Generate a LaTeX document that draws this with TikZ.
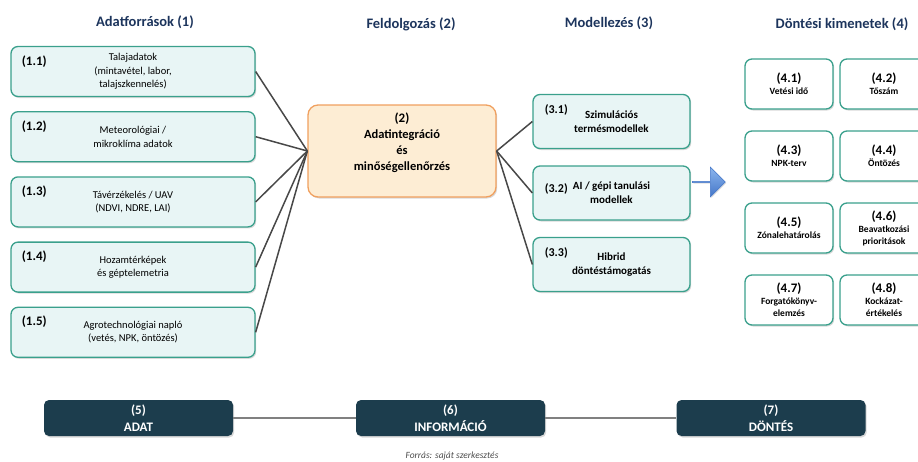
\documentclass[tikz,border=0pt]{standalone}
\usepackage{fontspec}
\setmainfont{Carlito}
\usetikzlibrary{shadows,shapes.arrows}
\definecolor{boxline}{RGB}{58,160,140}
\definecolor{boxfill}{RGB}{232,245,245}
\definecolor{coreline}{RGB}{240,160,95}
\definecolor{corefill}{RGB}{253,237,212}
\definecolor{barfill}{RGB}{28,61,77}
\definecolor{headtext}{RGB}{28,52,92}
\definecolor{wirecol}{RGB}{72,72,72}
\definecolor{arrowlight}{RGB}{140,182,238}
\definecolor{arrowdark}{RGB}{68,118,200}
\newcommand\fs[2]{\fontsize{#1}{#2}\selectfont}
\newcommand\bignum[1]{{\fs{13}{14}#1}}

\begin{document}
\begin{tikzpicture}[x=1pt, y=-1pt]
  \tikzstyle{source} = [rectangle, draw=boxline, line width=1.3pt, fill=boxfill, rounded corners=7pt,
                        minimum width=244pt, minimum height=50pt, align=center, font=\fs{10.5}{13.5},
                        drop shadow={shadow xshift=1.2pt, shadow yshift=-1.5pt, opacity=.3}]
  \tikzstyle{model} = [source, minimum width=157pt, minimum height=54pt, font=\bfseries\fs{11}{14}]
  \tikzstyle{outcome} = [source, fill=white, minimum width=88pt, minimum height=50pt, font=\bfseries\fs{9.5}{12}]
  \tikzstyle{core} = [source, draw=coreline, fill=corefill, minimum width=188pt, minimum height=92pt, rounded corners=10pt]
  \tikzstyle{stage} = [rectangle, fill=barfill, rounded corners=5pt, minimum width=189pt, minimum height=36pt,
                       text=white, align=center, font=\bfseries\fs{13}{16.5},
                       drop shadow={shadow xshift=1.2pt, shadow yshift=-1.5pt, opacity=.3}]
  \tikzstyle{num} = [anchor=north west, xshift=8pt, yshift=-6pt, font=\bfseries\fs{13}{14}]
  \tikzstyle{head} = [text=headtext, font=\bfseries\fs{14.5}{16}]
  \tikzstyle{wire} = [draw=wirecol, line width=1.5pt]
  \tikzstyle{barwire} = [draw=black!50, line width=2pt]

\clip (0,0) rectangle (918,461);

% column headers
\node[head] (h1) at (145,22) {Adatforrások (1)};
\node[head] (h2) at (411,24) {Feldolgozás (2)};
\node[head] (h3) at (609,23) {Modellezés (3)};
\node[head] (h4) at (842,24) {Döntési kimenetek (4)};

% data sources
\node[source, label={[num]north west:(1.1)}] (src11) at (133,71.5) {Talajadatok\\(mintavétel, labor,\\talajszkennelés)};
\node[source, below of=src11, node distance=65.2pt, label={[num]north west:(1.2)}] (src12) {Meteorológiai /\\mikroklíma adatok};
\node[source, below of=src12, node distance=65.2pt, label={[num]north west:(1.3)}] (src13) {Távérzékelés / UAV\\(NDVI, NDRE, LAI)};
\node[source, below of=src13, node distance=65.2pt, label={[num]north west:(1.4)}] (src14) {Hozamtérképek\\és géptelemetria};
\node[source, below of=src14, node distance=65.2pt, label={[num]north west:(1.5)}] (src15) {Agrotechnológiai napló\\(vetés, NPK, öntözés)};

% processing
\node[core, label={[align=center, font=\bfseries\fs{12.5}{16}, yshift=8pt]center:{\bignum{(2)}\\Adatintegráció\\és\\minőségellenőrzés}}] (integ) at (402,151) {};

% models
\node[model, label={[num, xshift=1pt, yshift=-1pt, font=\bfseries\fs{12}{13}]north west:(3.1)}] (mod31) at (611.5,121.5) {Szimulációs\\termésmodellek};
\node[model, below of=mod31, node distance=71.5pt, label={[num, xshift=1pt, yshift=-9pt, font=\bfseries\fs{12}{13}]north west:(3.2)}] (mod32) {AI / gépi tanulási\\modellek};
\node[model, below of=mod32, node distance=71.5pt, label={[num, xshift=1pt, yshift=-1pt, font=\bfseries\fs{12}{13}]north west:(3.3)}] (mod33) {Hibrid\\döntéstámogatás};

\node[single arrow, draw=arrowdark, line width=.5pt, top color=arrowlight, bottom color=arrowdark,
      minimum height=33pt, minimum width=30pt, single arrow head extend=6pt, inner sep=0pt,
      drop shadow={shadow xshift=1pt, shadow yshift=-1pt, opacity=.25}] (handoff) at (708.5,182) {};

% decision outputs
\node[outcome] (dec41) at (789,84) {\bignum{(4.1)}\\Vetési idő};
\node[outcome, right of=dec41, node distance=95pt] (dec42) {\bignum{(4.2)}\\Tőszám};
\node[outcome, below of=dec41, node distance=72pt] (dec43) {\bignum{(4.3)}\\NPK-terv};
\node[outcome, right of=dec43, node distance=95pt] (dec44) {\bignum{(4.4)}\\Öntözés};
\node[outcome, below of=dec43, node distance=72pt] (dec45) {\bignum{(4.5)}\\Zónalehatárolás};
\node[outcome, right of=dec45, node distance=95pt] (dec46) {\bignum{(4.6)}\\Beavatkozási\\prioritások};
\node[outcome, below of=dec45, node distance=72pt] (dec47) {\bignum{(4.7)}\\Forgatókönyv-\\elemzés};
\node[outcome, right of=dec47, node distance=95pt] (dec48) {\bignum{(4.8)}\\Kockázat-\\értékelés};

% data -> information -> decision bar
\node[stage] (adat) at (138.5,418) {(5)\\ADAT};
\node[stage, right of=adat, node distance=312pt] (info) {(6)\\INFORMÁCIÓ};
\node[stage, right of=info, node distance=320.5pt] (dontes) {(7)\\DÖNTÉS};

\node[font=\itshape\fs{9.5}{11}, text=black!70] (forras) at (452,456) {Forrás: saját szerkesztés};

\draw[wire] (src11.east) -- (integ.west);
\draw[wire] (src12.east) -- (integ.west);
\draw[wire] (src13.east) -- (integ.west);
\draw[wire] (src14.east) -- (integ.west);
\draw[wire] (src15.east) -- (integ.west);
\draw[wire] (integ.east) -- (mod31.west);
\draw[wire] (integ.east) -- (mod32.west);
\draw[wire] (integ.east) -- (mod33.west);
\draw[barwire] (adat) -- (info);
\draw[barwire] (info) -- (dontes);
\end{tikzpicture}
\end{document}
